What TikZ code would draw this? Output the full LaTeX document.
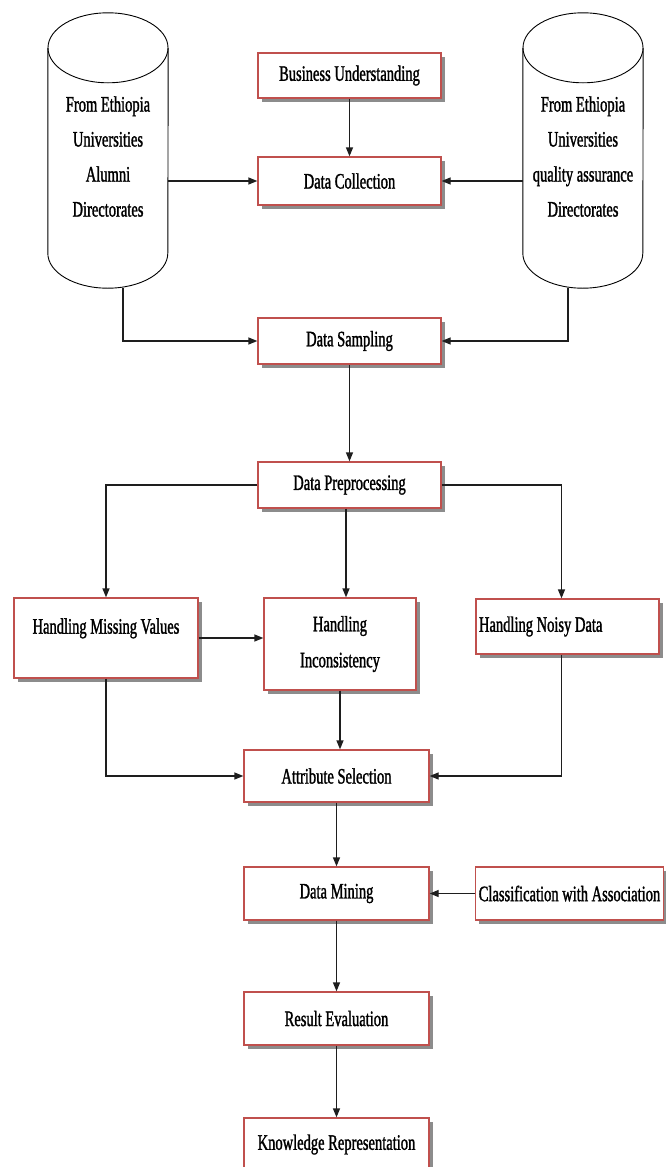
\documentclass[tikz,border=0pt]{standalone}
\usepackage{fontspec}
\setmainfont{Liberation Serif}[FakeStretch=0.66, FakeBold=1.3]
\usepackage{xcolor}
\usetikzlibrary{arrows.meta,positioning,shadows}

\definecolor{boxred}{RGB}{192,80,77}
\definecolor{linedark}{RGB}{30,30,30}

\begin{document}
\begin{tikzpicture}[
  x=1pt, y=-1pt,
  box/.style={draw=boxred, line width=1.3pt, fill=white, minimum width=183pt, minimum height=47pt, align=center, inner sep=3pt, font=\fontsize{22}{36}\selectfont, drop shadow={shadow xshift=3.5pt, shadow yshift=-3.5pt, opacity=1, fill=black!45}},
  db/.style={minimum width=120pt, minimum height=275pt, inner sep=0pt},
  dbtxt/.style={align=center, font=\fontsize{22}{35}\selectfont, yshift=-6pt},
  arr/.style={-{Triangle[length=9pt,width=7pt]}, line width=1.3pt, draw=linedark}
]
\path[use as bounding box, fill=white] (0,0) rectangle (665,1167);

% sources
\node[db, label={[dbtxt]center:From Ethiopia\\Universities\\Alumni\\Directorates}] (alumni) at (108,150.5) {};
\node[db, label={[dbtxt]center:From Ethiopia\\Universities\\quality assurance\\Directorates}] (quality) at (583,150.5) {};
\draw[line width=0.9pt] ([yshift=-35pt]alumni.north west) -- ([yshift=35pt]alumni.south west)
  arc[start angle=180, end angle=360, x radius=60pt, y radius=35pt] -- ([yshift=-35pt]alumni.north east);
\draw[line width=0.9pt] ([yshift=-35pt]alumni.north) ellipse[x radius=60pt, y radius=35pt];
\draw[line width=0.9pt] ([yshift=-35pt]quality.north west) -- ([yshift=35pt]quality.south west)
  arc[start angle=180, end angle=360, x radius=60pt, y radius=35pt] -- ([yshift=-35pt]quality.north east);
\draw[line width=0.9pt] ([yshift=-35pt]quality.north) ellipse[x radius=60pt, y radius=35pt];

% steps
\node[box, minimum height=45pt] (bu) at (349.5,75.5) {Business Understanding};
\node[box, minimum height=48pt] (dc) at (349.5,181) {Data Collection};
\node[box, minimum height=46pt] (ds) at (349.5,341) {Data Sampling};
\node[box, minimum height=46pt] (dp) at (349.5,485) {Data Preprocessing};
\node[box, minimum width=184pt, minimum height=80pt, text depth=24pt] (hmv) at (106,638) {Handling Missing Values};
\node[box, minimum width=152pt, minimum height=92pt] (hi) at (340,644) {Handling\\Inconsistency};
\node[box, text width=177pt, align=flush left, minimum height=55pt] (hnd) at (567.5,626.5) {Handling Noisy Data};
\node[box, minimum width=185pt, minimum height=52pt] (as) at (336.5,776) {Attribute Selection};
\node[box, minimum width=185pt, minimum height=53pt] (dm) at (336.5,893.5) {Data Mining};
\node[box, minimum width=187pt, minimum height=53pt] (cwa) at (569.5,893.5) {Classification with Association};
\node[box, minimum width=185pt, minimum height=53pt] (re) at (336.5,1018.5) {Result Evaluation};
\node[box, minimum width=185pt, minimum height=53pt] (kr) at (336.5,1144.5) {Knowledge Representation};

% flow
\draw[arr] (bu) -- (dc);
\draw[arr] (alumni.east |- dc.west) -- (dc.west);
\draw[arr] (quality.west |- dc.east) -- (dc.east);
\draw[arr] ([xshift=15pt]alumni.south) |- (ds.west);
\draw[arr] ([xshift=-15pt]quality.south) |- (ds.east);
\draw[arr] (ds) -- (dp);
\draw[arr] (dp.west) -| (hmv.north);
\draw[arr] ([xshift=-3.5pt]dp.south) -- ([xshift=-3.5pt]dp.south |- hi.north);
\draw[arr] (dp.east) -| ([xshift=-6pt]hnd.north);
\draw[arr] (hmv.east) -- (hmv.east -| hi.west);
\draw[arr] (hmv.south) |- (as.west);
\draw[arr] (hi.south) -- (hi.south |- as.north);
\draw[arr] ([xshift=-6pt]hnd.south) |- (as.east);
\draw[arr] (as) -- (dm);
\draw[arr] (cwa) -- (dm);
\draw[arr] (dm) -- (re);
\draw[arr] (re) -- (kr);
\end{tikzpicture}
\end{document}
